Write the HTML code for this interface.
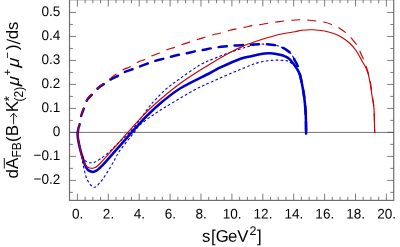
<!DOCTYPE html><html><head><meta charset="utf-8"><style>
html,body{margin:0;padding:0;background:#fff}
body{width:400px;height:247px;position:relative;overflow:hidden;font-family:"Liberation Sans",sans-serif}
svg{will-change:transform}
</style></head><body>
<svg width="400" height="247" viewBox="0 0 400 247" style="position:absolute;left:0;top:0">
<g stroke="#5c5c5c" stroke-width="0.8" fill="none">
<rect x="69.50" y="-0.30" width="324.20" height="200.70" stroke="#707070" stroke-width="1.2"/>
<path d="M77.40 200.40 v-6.80 M77.40 -0.30 v6.80 M85.12 200.40 v-3.60 M85.12 -0.30 v3.60 M92.85 200.40 v-3.60 M92.85 -0.30 v3.60 M100.58 200.40 v-3.60 M100.58 -0.30 v3.60 M108.30 200.40 v-6.80 M108.30 -0.30 v6.80 M116.03 200.40 v-3.60 M116.03 -0.30 v3.60 M123.75 200.40 v-3.60 M123.75 -0.30 v3.60 M131.47 200.40 v-3.60 M131.47 -0.30 v3.60 M139.20 200.40 v-6.80 M139.20 -0.30 v6.80 M146.93 200.40 v-3.60 M146.93 -0.30 v3.60 M154.65 200.40 v-3.60 M154.65 -0.30 v3.60 M162.38 200.40 v-3.60 M162.38 -0.30 v3.60 M170.10 200.40 v-6.80 M170.10 -0.30 v6.80 M177.82 200.40 v-3.60 M177.82 -0.30 v3.60 M185.55 200.40 v-3.60 M185.55 -0.30 v3.60 M193.28 200.40 v-3.60 M193.28 -0.30 v3.60 M201.00 200.40 v-6.80 M201.00 -0.30 v6.80 M208.72 200.40 v-3.60 M208.72 -0.30 v3.60 M216.45 200.40 v-3.60 M216.45 -0.30 v3.60 M224.18 200.40 v-3.60 M224.18 -0.30 v3.60 M231.90 200.40 v-6.80 M231.90 -0.30 v6.80 M239.62 200.40 v-3.60 M239.62 -0.30 v3.60 M247.35 200.40 v-3.60 M247.35 -0.30 v3.60 M255.07 200.40 v-3.60 M255.07 -0.30 v3.60 M262.80 200.40 v-6.80 M262.80 -0.30 v6.80 M270.52 200.40 v-3.60 M270.52 -0.30 v3.60 M278.25 200.40 v-3.60 M278.25 -0.30 v3.60 M285.98 200.40 v-3.60 M285.98 -0.30 v3.60 M293.70 200.40 v-6.80 M293.70 -0.30 v6.80 M301.42 200.40 v-3.60 M301.42 -0.30 v3.60 M309.15 200.40 v-3.60 M309.15 -0.30 v3.60 M316.88 200.40 v-3.60 M316.88 -0.30 v3.60 M324.60 200.40 v-6.80 M324.60 -0.30 v6.80 M332.32 200.40 v-3.60 M332.32 -0.30 v3.60 M340.05 200.40 v-3.60 M340.05 -0.30 v3.60 M347.77 200.40 v-3.60 M347.77 -0.30 v3.60 M355.50 200.40 v-6.80 M355.50 -0.30 v6.80 M363.23 200.40 v-3.60 M363.23 -0.30 v3.60 M370.95 200.40 v-3.60 M370.95 -0.30 v3.60 M378.67 200.40 v-3.60 M378.67 -0.30 v3.60 M386.40 200.40 v-6.80 M386.40 -0.30 v6.80 M69.50 192.38 h3.40 M393.70 192.38 h-3.40 M69.50 180.38 h6.50 M393.70 180.38 h-6.50 M69.50 168.39 h3.40 M393.70 168.39 h-3.40 M69.50 156.39 h6.50 M393.70 156.39 h-6.50 M69.50 144.40 h3.40 M393.70 144.40 h-3.40 M69.50 132.40 h6.50 M393.70 132.40 h-6.50 M69.50 120.41 h3.40 M393.70 120.41 h-3.40 M69.50 108.41 h6.50 M393.70 108.41 h-6.50 M69.50 96.41 h3.40 M393.70 96.41 h-3.40 M69.50 84.42 h6.50 M393.70 84.42 h-6.50 M69.50 72.43 h3.40 M393.70 72.43 h-3.40 M69.50 60.43 h6.50 M393.70 60.43 h-6.50 M69.50 48.44 h3.40 M393.70 48.44 h-3.40 M69.50 36.44 h6.50 M393.70 36.44 h-6.50 M69.50 24.45 h3.40 M393.70 24.45 h-3.40 M69.50 12.45 h6.50 M393.70 12.45 h-6.50"/>
</g>
<line x1="69.50" y1="132.40" x2="393.70" y2="132.40" stroke="#444" stroke-width="0.75"/>
<g fill="none" stroke-linejoin="round" stroke-linecap="round">
<path d="M77.50 132.40 C77.58 133.33 77.58 135.40 78.00 138.00 C78.42 140.60 79.08 144.63 80.00 148.00 C80.92 151.37 82.33 155.88 83.50 158.20 C84.67 160.52 85.75 161.13 87.00 161.90 C88.25 162.67 89.67 162.78 91.00 162.80 C92.33 162.82 93.50 162.63 95.00 162.00 C96.50 161.37 97.92 160.42 100.00 159.00 C102.08 157.58 104.83 155.78 107.50 153.50 C110.17 151.22 113.58 147.63 116.00 145.30 C118.42 142.97 119.75 141.65 122.00 139.50 C124.25 137.35 126.80 135.32 129.50 132.40 C132.20 129.48 135.45 125.57 138.20 122.00 C140.95 118.43 143.87 113.92 146.00 111.00 C148.13 108.08 149.67 106.13 151.00 104.50 C152.33 102.87 151.58 103.70 154.00 101.20 C156.42 98.70 161.17 93.27 165.50 89.50 C169.83 85.73 174.25 82.70 180.00 78.60 C185.75 74.50 194.17 68.30 200.00 64.90 C205.83 61.50 210.00 60.28 215.00 58.20 C220.00 56.12 225.00 54.18 230.00 52.40 C235.00 50.62 241.33 48.65 245.00 47.50 C248.67 46.35 249.67 46.05 252.00 45.50 C254.33 44.95 256.72 44.42 259.00 44.20 C261.28 43.98 262.95 44.03 265.70 44.20 C268.45 44.37 272.87 44.68 275.50 45.20 C278.13 45.72 279.75 46.57 281.50 47.30 C283.25 48.03 284.55 48.67 286.00 49.60 C287.45 50.53 289.10 51.83 290.20 52.90 C291.30 53.97 291.87 54.82 292.60 56.00 C293.33 57.18 293.87 58.58 294.60 60.00 C295.33 61.42 296.30 63.08 297.00 64.50 C297.70 65.92 298.50 67.83 298.80 68.50" stroke="#0000cc" stroke-width="1.1" stroke-dasharray="1.8 3.1"/>
<path d="M77.50 132.40 C77.75 134.00 78.33 138.07 79.00 142.00 C79.67 145.93 80.63 151.42 81.50 156.00 C82.37 160.58 83.37 165.83 84.20 169.50 C85.03 173.17 85.65 175.72 86.50 178.00 C87.35 180.28 88.38 181.83 89.30 183.20 C90.22 184.57 91.17 185.52 92.00 186.20 C92.83 186.88 93.55 187.28 94.30 187.30 C95.05 187.32 95.72 186.92 96.50 186.30 C97.28 185.68 98.02 184.72 99.00 183.60 C99.98 182.48 100.73 181.95 102.40 179.60 C104.07 177.25 106.90 172.93 109.00 169.50 C111.10 166.07 113.30 162.00 115.00 159.00 C116.70 156.00 117.28 154.33 119.20 151.50 C121.12 148.67 124.08 145.08 126.50 142.00 C128.92 138.92 131.42 135.88 133.70 133.00 C135.98 130.12 136.48 128.03 140.20 124.70 C143.92 121.37 150.62 116.65 156.00 113.00 C161.38 109.35 166.00 106.68 172.50 102.80 C179.00 98.92 188.75 93.08 195.00 89.70 C201.25 86.32 201.67 86.20 210.00 82.50 C218.33 78.80 236.67 70.88 245.00 67.50 C253.33 64.12 255.17 63.42 260.00 62.20 C264.83 60.98 269.83 60.48 274.00 60.20 C278.17 59.92 282.50 60.28 285.00 60.50 C287.50 60.72 287.75 60.88 289.00 61.50 C290.25 62.12 291.33 63.12 292.50 64.20 C293.67 65.28 294.88 66.37 296.00 68.00 C297.12 69.63 298.67 73.00 299.20 74.00" stroke="#0000cc" stroke-width="1.1" stroke-dasharray="1.8 3.1"/>
<path d="M77.50 132.40 C77.62 133.67 77.70 136.98 78.20 140.00 C78.70 143.02 79.70 147.33 80.50 150.50 C81.30 153.67 82.25 156.58 83.00 159.00 C83.75 161.42 84.17 163.17 85.00 165.00 C85.83 166.83 86.70 168.85 88.00 170.00 C89.30 171.15 91.38 171.80 92.80 171.90 C94.22 172.00 95.22 171.38 96.50 170.60 C97.78 169.82 99.17 168.43 100.50 167.20 C101.83 165.97 102.50 165.38 104.50 163.20 C106.50 161.02 109.83 157.12 112.50 154.10 C115.17 151.08 117.30 148.72 120.50 145.10 C123.70 141.48 127.33 137.25 131.70 132.40 C136.07 127.55 141.57 121.13 146.70 116.00 C151.83 110.87 156.95 106.18 162.50 101.60 C168.05 97.02 172.08 93.27 180.00 88.50 C187.92 83.73 203.17 76.55 210.00 73.00 C216.83 69.45 215.92 69.58 221.00 67.20 C226.08 64.82 235.67 60.48 240.50 58.70 C245.33 56.92 246.75 57.25 250.00 56.50 C253.25 55.75 257.50 54.72 260.00 54.20 C262.50 53.68 263.33 53.55 265.00 53.40 C266.67 53.25 268.33 53.25 270.00 53.30 C271.67 53.35 273.33 53.45 275.00 53.70 C276.67 53.95 278.33 54.35 280.00 54.80 C281.67 55.25 283.50 55.77 285.00 56.40 C286.50 57.03 287.38 57.10 289.00 58.60 C290.62 60.10 292.93 62.83 294.70 65.40 C296.47 67.97 298.30 70.45 299.60 74.00 C300.90 77.55 301.73 82.87 302.50 86.70 C303.27 90.53 303.70 93.03 304.20 97.00 C304.70 100.97 305.21 106.38 305.50 110.50 C305.79 114.62 305.85 117.85 305.95 121.70 C306.05 125.55 306.08 131.62 306.10 133.60" stroke="#0000cc" stroke-width="2.55" />
<path d="M77.80 132.40 C77.92 131.67 78.18 129.40 78.50 128.00 C78.82 126.60 79.32 125.80 79.70 124.00 C80.08 122.20 80.33 119.20 80.80 117.20 C81.27 115.20 81.93 113.62 82.50 112.00 C83.07 110.38 83.58 109.22 84.20 107.50 C84.82 105.78 85.40 103.37 86.20 101.70 C87.00 100.03 87.95 98.75 89.00 97.50 C90.05 96.25 91.22 95.53 92.50 94.20 C93.78 92.87 95.37 90.82 96.70 89.50 C98.03 88.18 99.20 87.27 100.50 86.30 C101.80 85.33 102.97 84.75 104.50 83.70 C106.03 82.65 107.33 81.37 109.70 80.00 C112.07 78.63 116.28 76.80 118.70 75.50 C121.12 74.20 121.78 73.28 124.20 72.20 C126.62 71.12 130.70 69.92 133.20 69.00 C135.70 68.08 136.62 67.67 139.20 66.70 C141.78 65.73 146.12 64.15 148.70 63.20 C151.28 62.25 152.15 61.75 154.70 61.00 C157.25 60.25 161.42 59.37 164.00 58.70 C166.58 58.03 167.62 57.67 170.20 57.00 C172.78 56.33 176.90 55.28 179.50 54.70 C182.10 54.12 183.10 54.08 185.80 53.50 C188.50 52.92 193.00 51.75 195.70 51.20 C198.40 50.65 199.33 50.70 202.00 50.20 C204.67 49.70 209.03 48.70 211.70 48.20 C214.37 47.70 215.33 47.53 218.00 47.20 C220.67 46.87 225.08 46.48 227.70 46.20 C230.32 45.92 230.82 45.70 233.70 45.50 C236.58 45.30 242.25 45.13 245.00 45.00 C247.75 44.87 247.87 44.83 250.20 44.70 C252.53 44.57 256.42 44.28 259.00 44.20 C261.58 44.12 262.95 44.03 265.70 44.20 C268.45 44.37 272.87 44.68 275.50 45.20 C278.13 45.72 279.75 46.57 281.50 47.30 C283.25 48.03 284.55 48.67 286.00 49.60 C287.45 50.53 289.10 51.83 290.20 52.90 C291.30 53.97 291.87 54.82 292.60 56.00 C293.33 57.18 293.87 58.58 294.60 60.00 C295.33 61.42 296.30 63.08 297.00 64.50 C297.70 65.92 298.32 66.92 298.80 68.50 C299.28 70.08 299.28 70.97 299.90 74.00 C300.52 77.03 301.78 82.87 302.50 86.70 C303.22 90.53 303.70 93.03 304.20 97.00 C304.70 100.97 305.21 106.38 305.50 110.50 C305.79 114.62 305.85 117.85 305.95 121.70 C306.05 125.55 306.08 131.62 306.10 133.60" stroke="#0000cc" stroke-width="2.5" stroke-dasharray="8 8.2" stroke-dashoffset="-0.5"/>
<path d="M77.50 132.40 C77.67 133.67 78.00 137.07 78.50 140.00 C79.00 142.93 79.92 147.08 80.50 150.00 C81.08 152.92 81.25 155.13 82.00 157.50 C82.75 159.87 84.00 162.57 85.00 164.20 C86.00 165.83 86.88 166.62 88.00 167.30 C89.12 167.98 90.53 168.27 91.70 168.30 C92.87 168.33 94.20 167.75 95.00 167.50 C95.80 167.25 95.58 167.55 96.50 166.80 C97.42 166.05 99.17 164.35 100.50 163.00 C101.83 161.65 102.50 160.92 104.50 158.70 C106.50 156.48 109.83 152.72 112.50 149.70 C115.17 146.68 117.95 143.48 120.50 140.60 C123.05 137.72 124.12 136.48 127.80 132.40 C131.48 128.32 137.68 121.17 142.60 116.10 C147.52 111.03 150.93 107.52 157.30 102.00 C163.67 96.48 172.73 88.88 180.80 83.00 C188.87 77.12 197.50 71.78 205.70 66.70 C213.90 61.62 223.45 56.07 230.00 52.50 C236.55 48.93 241.67 46.80 245.00 45.30 C248.33 43.80 247.50 44.38 250.00 43.50 C252.50 42.62 257.50 40.83 260.00 40.00 C262.50 39.17 261.67 39.45 265.00 38.50 C268.33 37.55 275.00 35.43 280.00 34.30 C285.00 33.17 291.33 32.38 295.00 31.70 C298.67 31.02 299.08 30.52 302.00 30.20 C304.92 29.88 308.75 29.67 312.50 29.80 C316.25 29.93 320.75 30.30 324.50 31.00 C328.25 31.70 332.00 32.88 335.00 34.00 C338.00 35.12 340.00 36.12 342.50 37.70 C345.00 39.28 347.75 41.37 350.00 43.50 C352.25 45.63 354.00 47.58 356.00 50.50 C358.00 53.42 360.25 57.92 362.00 61.00 C363.75 64.08 365.25 65.92 366.50 69.00 C367.75 72.08 368.55 74.83 369.50 79.50 C370.45 84.17 371.45 92.08 372.20 97.00 C372.95 101.92 373.58 103.10 374.00 109.00 C374.42 114.90 374.58 128.50 374.70 132.40" stroke="#cc0000" stroke-width="1.15"/>
<path d="M77.80 132.40 C77.92 131.67 78.20 129.40 78.50 128.00 C78.80 126.60 79.25 125.80 79.60 124.00 C79.95 122.20 80.17 119.20 80.60 117.20 C81.03 115.20 81.67 113.65 82.20 112.00 C82.73 110.35 83.20 109.07 83.80 107.30 C84.40 105.53 85.02 103.10 85.80 101.40 C86.58 99.70 87.47 98.38 88.50 97.10 C89.53 95.82 90.72 95.05 92.00 93.70 C93.28 92.35 94.87 90.32 96.20 89.00 C97.53 87.68 98.70 86.77 100.00 85.80 C101.30 84.83 102.47 84.27 104.00 83.20 C105.53 82.13 107.20 80.90 109.20 79.40 C111.20 77.90 113.67 75.82 116.00 74.20 C118.33 72.58 120.83 70.95 123.20 69.70 C125.57 68.45 127.85 67.90 130.20 66.70 C132.55 65.50 134.80 63.75 137.30 62.50 C139.80 61.25 142.70 60.33 145.20 59.20 C147.70 58.07 149.80 56.78 152.30 55.70 C154.80 54.62 157.72 53.70 160.20 52.70 C162.68 51.70 164.73 50.62 167.20 49.70 C169.67 48.78 172.50 48.07 175.00 47.20 C177.50 46.33 179.58 45.40 182.20 44.50 C184.82 43.60 188.15 42.63 190.70 41.80 C193.25 40.97 195.00 40.30 197.50 39.50 C200.00 38.70 203.08 37.80 205.70 37.00 C208.32 36.20 210.82 35.33 213.20 34.70 C215.58 34.07 217.20 33.95 220.00 33.20 C222.80 32.45 227.08 30.95 230.00 30.20 C232.92 29.45 235.00 29.20 237.50 28.70 C240.00 28.20 242.38 27.75 245.00 27.20 C247.62 26.65 250.58 25.85 253.20 25.40 C255.82 24.95 258.07 24.90 260.70 24.50 C263.33 24.10 266.37 23.42 269.00 23.00 C271.63 22.58 273.75 22.37 276.50 22.00 C279.25 21.63 282.75 21.10 285.50 20.80 C288.25 20.50 290.30 20.38 293.00 20.20 C295.70 20.02 299.00 19.70 301.70 19.70 C304.40 19.70 306.53 19.95 309.20 20.20 C311.87 20.45 315.03 20.85 317.70 21.20 C320.37 21.55 322.57 21.62 325.20 22.30 C327.83 22.98 331.00 24.23 333.50 25.30 C336.00 26.37 337.95 27.30 340.20 28.70 C342.45 30.10 345.00 31.95 347.00 33.70 C349.00 35.45 350.45 37.15 352.20 39.20 C353.95 41.25 356.12 43.75 357.50 46.00 C358.88 48.25 359.38 50.20 360.50 52.70 C361.62 55.20 363.28 58.78 364.20 61.00 C365.12 63.22 365.23 63.67 366.00 66.00 C366.77 68.33 367.97 71.67 368.80 75.00 C369.63 78.33 370.38 82.33 371.00 86.00 C371.62 89.67 372.00 93.17 372.50 97.00 C373.00 100.83 373.63 103.10 374.00 109.00 C374.37 114.90 374.58 128.50 374.70 132.40" stroke="#cc0000" stroke-width="1.15" stroke-dasharray="8 8.1" stroke-dashoffset="-0.8"/>
</g>
<g font-family="Liberation Sans, sans-serif" fill="#000">
<text transform="translate(60.40,15.95) rotate(0.03) scale(0.97,1)" font-size="14.00" text-anchor="end">0.5</text>
<text transform="translate(60.40,39.94) rotate(0.03) scale(0.97,1)" font-size="14.00" text-anchor="end">0.4</text>
<text transform="translate(60.40,63.93) rotate(0.03) scale(0.97,1)" font-size="14.00" text-anchor="end">0.3</text>
<text transform="translate(60.40,87.92) rotate(0.03) scale(0.97,1)" font-size="14.00" text-anchor="end">0.2</text>
<text transform="translate(60.40,111.91) rotate(0.03) scale(0.97,1)" font-size="14.00" text-anchor="end">0.1</text>
<text transform="translate(60.40,135.90) rotate(0.03) scale(0.97,1)" font-size="14.00" text-anchor="end">0</text>
<text transform="translate(60.40,159.89) rotate(0.03) scale(0.97,1)" font-size="14.00" text-anchor="end">−0.1</text>
<text transform="translate(60.40,183.88) rotate(0.03) scale(0.97,1)" font-size="14.00" text-anchor="end">−0.2</text>
<text transform="translate(77.60,218.60) rotate(0.03) scale(0.97,1)" font-size="14.00" text-anchor="middle">0.</text>
<text transform="translate(108.50,218.60) rotate(0.03) scale(0.97,1)" font-size="14.00" text-anchor="middle">2.</text>
<text transform="translate(139.40,218.60) rotate(0.03) scale(0.97,1)" font-size="14.00" text-anchor="middle">4.</text>
<text transform="translate(170.30,218.60) rotate(0.03) scale(0.97,1)" font-size="14.00" text-anchor="middle">6.</text>
<text transform="translate(201.20,218.60) rotate(0.03) scale(0.97,1)" font-size="14.00" text-anchor="middle">8.</text>
<text transform="translate(232.10,218.60) rotate(0.03) scale(0.97,1)" font-size="14.00" text-anchor="middle">10.</text>
<text transform="translate(263.00,218.60) rotate(0.03) scale(0.97,1)" font-size="14.00" text-anchor="middle">12.</text>
<text transform="translate(293.90,218.60) rotate(0.03) scale(0.97,1)" font-size="14.00" text-anchor="middle">14.</text>
<text transform="translate(324.80,218.60) rotate(0.03) scale(0.97,1)" font-size="14.00" text-anchor="middle">16.</text>
<text transform="translate(355.70,218.60) rotate(0.03) scale(0.97,1)" font-size="14.00" text-anchor="middle">18.</text>
<text transform="translate(386.60,218.60) rotate(0.03) scale(0.97,1)" font-size="14.00" text-anchor="middle">20.</text>
<text id="x_s" transform="translate(202.00,241.80) rotate(0.03)" font-size="16.80">s</text>
<text id="x_lb" transform="translate(211.00,241.80) rotate(0.03)" font-size="16.80">[</text>
<text id="x_G" transform="translate(215.80,241.80) rotate(0.03)" font-size="16.80">G</text>
<text id="x_e" transform="translate(228.00,241.80) rotate(0.03)" font-size="16.80">e</text>
<text id="x_V" transform="translate(237.30,241.80) rotate(0.03)" font-size="16.80">V</text>
<text id="x_2" transform="translate(249.50,235.00) rotate(0.03)" font-size="12.50">2</text>
<text id="x_rb" transform="translate(257.10,241.80) rotate(0.03)" font-size="16.80">]</text>
<g transform="translate(17.90,0) rotate(-90)">
<text id="y_d" x="-178.50" y="0.00" font-size="17.00">d</text>
<text id="y_A" x="-169.00" y="0.00" font-size="17.00">A</text>
<text id="y_FB" x="-157.50" y="3.30" font-size="12.00">FB</text>
<text id="y_lp" x="-142.10" y="0.00" font-size="17.00">(</text>
<text id="y_B" x="-136.20" y="0.00" font-size="17.00">B</text>
<text id="y_K" x="-112.20" y="0.00" font-size="17.00">K</text>
<text id="y_st" x="-101.50" y="-3.60" font-size="14.00">*</text>
<text id="y_2" x="-101.40" y="4.90" font-size="12.00">(2)</text>
<text id="y_m1" transform="translate(-86.00,1.00) skewX(-5)" font-size="17.00" font-style="italic">μ</text>
<text id="y_pl" x="-75.50" y="-7.20" font-size="11.20">+</text>
<text id="y_m2" transform="translate(-67.60,1.00) skewX(-5)" font-size="17.00" font-style="italic">μ</text>
<text id="y_mi" x="-58.50" y="-7.20" font-size="11.20">−</text>
<text id="y_rp" x="-50.00" y="0.00" font-size="17.00">)</text>
<text id="y_d2" x="-39.20" y="0.20" font-size="17.00">d</text>
<text id="y_s" x="-30.10" y="0.20" font-size="16.50">s</text>
</g>
</g>
<path d="M4.3 168.6 V158.0" stroke="#000" stroke-width="0.9" fill="none"/>
<path d="M6.7 39.5 L20.3 43.9" stroke="#000" stroke-width="1.15" fill="none"/>
<path d="M13.6 124.2 V113.4 M10.3 116.9 L13.6 113.2 L16.9 116.9" stroke="#000" stroke-width="0.9" fill="none"/>
</svg>
</body></html>
